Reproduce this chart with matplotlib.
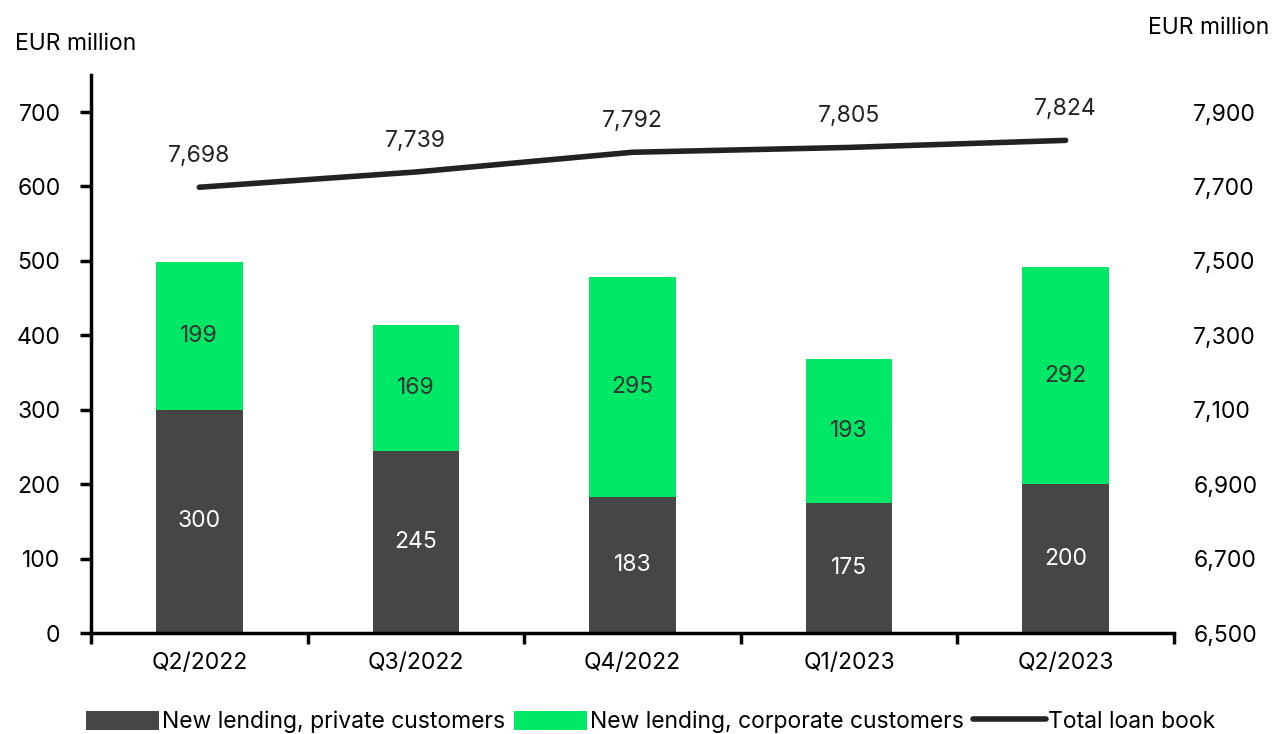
import matplotlib.pyplot as plt
import numpy as np

plt.rcParams["font.family"] = ["Inter", "DejaVu Sans"]

quarters = ["Q2/2022", "Q3/2022", "Q4/2022", "Q1/2023", "Q2/2023"]
private = [300, 245, 183, 175, 200]
corporate = [199, 169, 295, 193, 292]
loan_book = [7698, 7739, 7792, 7805, 7824]

dark = "#464646"
green = "#00E865"
fs = 16.5

fig = plt.figure(figsize=(12.76, 7.34), dpi=100)
ax = fig.add_axes([0.0713, 0.1376, 0.8487, 0.7604])
ax2 = ax.twinx()

x = np.arange(len(quarters))
w = 0.4
b1 = ax.bar(x, private, w, color=dark, label="New lending, private customers", zorder=2)
b2 = ax.bar(x, corporate, w, bottom=private, color=green,
            label="New lending, corporate customers", zorder=2)

for i in range(len(x)):
    ax.text(x[i], private[i] / 2, str(private[i]), ha="center", va="center",
            color="white", fontsize=fs)
    ax.text(x[i], private[i] + corporate[i] / 2, str(corporate[i]), ha="center",
            va="center", color="#333333", fontsize=fs)

ln, = ax2.plot(x, loan_book, color="#222222", lw=4, solid_capstyle="round",
               label="Total loan book", zorder=3)
for i in range(len(x)):
    ax2.text(x[i], loan_book[i] + 55, f"{loan_book[i]:,}", ha="center", va="bottom",
             fontsize=fs, color="#222222")

ax.set_xlim(-0.5, 4.5)
ax.set_ylim(0, 750)
ax.set_yticks(np.arange(0, 701, 100))
ax2.set_ylim(6500, 8000)
ax2.set_yticks(np.arange(6500, 7901, 200))
ax2.yaxis.set_major_formatter(plt.FuncFormatter(lambda v, p: f"{int(v):,}"))

ax.set_xticks(x)
ax.set_xticklabels(quarters)
ax.set_xticks(np.arange(-0.5, 4.6, 1), minor=True)
ax.tick_params(axis="x", which="major", length=0, pad=14, labelsize=fs)
ax.tick_params(axis="x", which="minor", length=8, width=2.5, direction="out")
ax.tick_params(axis="y", length=8, width=2.5, pad=14, labelsize=fs)
ax2.tick_params(axis="y", length=0, pad=14, labelsize=fs)

for s in ["top", "right"]:
    ax.spines[s].set_visible(False)
for s in ["top", "right", "left", "bottom"]:
    ax2.spines[s].set_visible(False)
ax.spines["left"].set_linewidth(2.5)
ax.spines["bottom"].set_linewidth(2.5)

fig.text(0.012, 0.94, "EUR million", fontsize=fs, va="center")
fig.text(0.995, 0.962, "EUR million", fontsize=fs, va="center", ha="right")

fig.legend(handles=[b1, b2, ln], loc="lower center", bbox_to_anchor=(0.51, -0.027),
           ncol=3, frameon=False, fontsize=fs, handlelength=3.2, handleheight=0.9,
           handletextpad=0.1, columnspacing=0.4)

fig.savefig("out.png", dpi=100)
